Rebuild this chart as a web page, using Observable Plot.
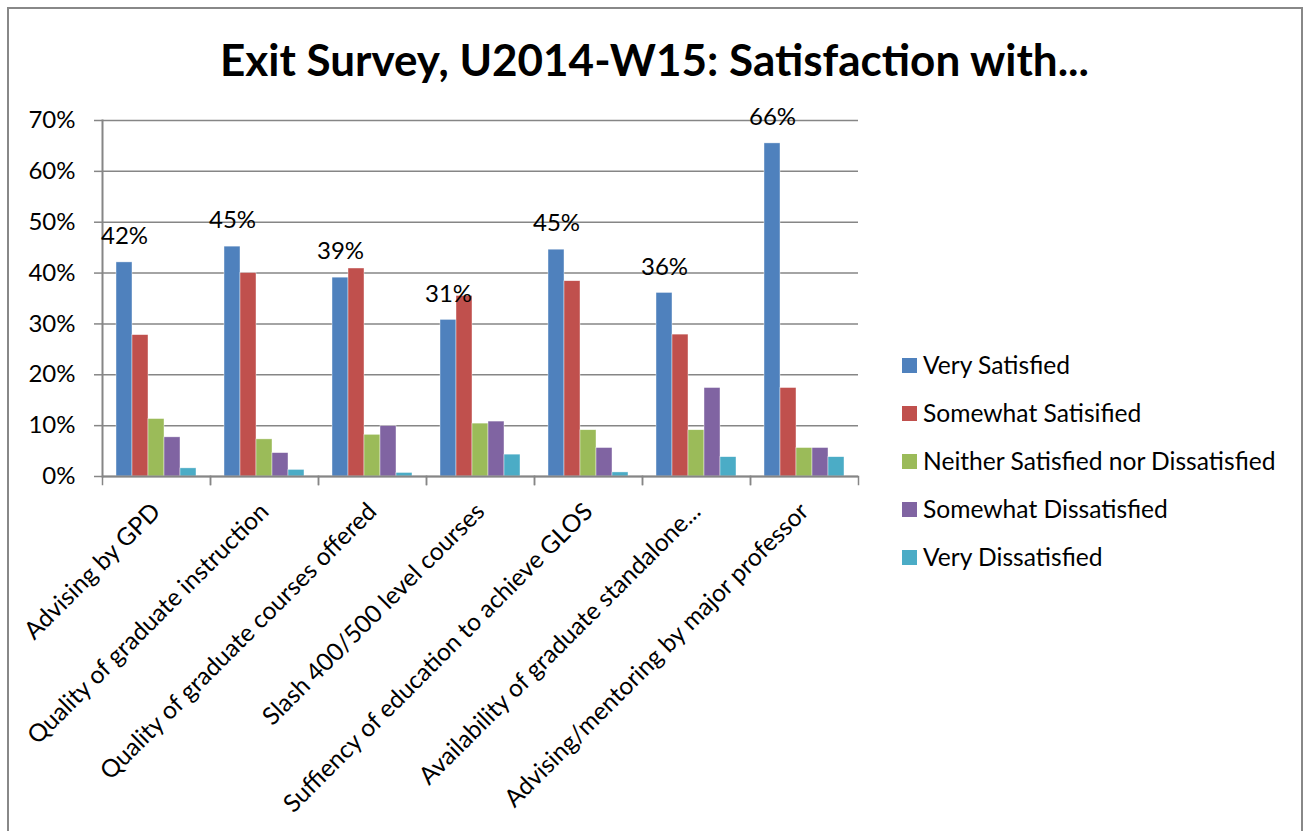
<!DOCTYPE html>
<html>
<head>
<meta charset="utf-8">
<script src="https://cdn.jsdelivr.net/npm/d3@7"></script>
<script src="https://cdn.jsdelivr.net/npm/@observablehq/plot@0.6"></script>
<style>
  html, body { margin: 0; padding: 0; background: #fff; }
  #wrap { position: relative; width: 1304px; height: 831px; overflow: hidden; font-family: Lato, "Open Sans", sans-serif; }
  #frame { position: absolute; left: 7px; top: 7px; width: 1296px; height: 900px; border: 2px solid #888; box-sizing: border-box; }
  #title { position: absolute; left: 7px; width: 1295px; top: 31px; text-align: center; font-weight: bold; font-size: 44px; line-height: 56px; color: #000; }
  #chart { position: absolute; left: 0; top: 0; }
  #legend { position: absolute; left: 902px; top: 0; }
  .item { position: absolute; left: 0; white-space: nowrap; font-size: 24.6px; line-height: 30px; color: #000; }
  .sw { display: inline-block; width: 15px; height: 15px; margin-right: 6px; vertical-align: middle; position: relative; top: -2px; }
</style>
</head>
<body>
<div id="wrap">
  <div id="frame"></div>
  <div id="title"></div>
  <div id="chart"></div>
  <div id="legend"></div>
</div>
<script>
const titleText = "Exit Survey, U2014-W15: Satisfaction with...";
const categories = [
  "Advising by GPD",
  "Quality of graduate instruction",
  "Quality of graduate courses offered",
  "Slash 400/500 level courses",
  "Suffiency of education to achieve GLOS",
  "Availability of graduate standalone...",
  "Advising/mentoring by major professor"
];
const seriesNames = [
  "Very Satisfied",
  "Somewhat Satisified",
  "Neither Satisfied nor Dissatisfied",
  "Somewhat Dissatisfied",
  "Very Dissatisfied"
];
const colors = ["#4F81BD", "#C0504D", "#9BBB59", "#8064A2", "#4BACC6"];
const verySatisfied        = [42.1, 45.2, 39.1, 30.8, 44.6, 36.1, 65.5];
const somewhatSatisfied    = [27.8, 40.0, 40.9, 35.5, 38.4, 27.9, 17.4];
const neither              = [11.3, 7.3, 8.2, 10.4, 9.1, 9.1, 5.6];
const somewhatDissatisfied = [7.7, 4.6, 9.9, 10.8, 5.6, 17.4, 5.6];
const veryDissatisfied     = [1.6, 1.3, 0.7, 4.3, 0.8, 3.8, 3.8];
const yTicks = [0, 10, 20, 30, 40, 50, 60, 70];

const seriesValues = [verySatisfied, somewhatSatisfied, neither, somewhatDissatisfied, veryDissatisfied];
const rows = categories.flatMap((c, i) => seriesNames.map((s, j) => ({category: c, series: s, value: seriesValues[j][i]})));
const labelRows = rows.filter(d => d.series === seriesNames[0]);

document.getElementById("title").textContent = titleText;

const W = 1304, H = 831;
const pLeft = 100, pRight = 859, pTop = 120, pBottom = 476;
const grey = "#868686";
const fs = 24;

const chart = Plot.plot({
  width: W, height: H,
  marginLeft: pLeft, marginRight: W - pRight, marginTop: pTop, marginBottom: H - pBottom,
  style: {fontFamily: "Lato, 'Open Sans', sans-serif", fontSize: fs + "px", background: "transparent", color: "#000"},
  fx: {domain: categories, padding: 0, label: null},
  x: {domain: seriesNames, paddingInner: 0, paddingOuter: 0.75, axis: null},
  y: {domain: [0, 70], label: null},
  color: {domain: seriesNames, range: colors},
  marks: [
    Plot.gridY(yTicks, {stroke: grey, strokeOpacity: 1, strokeWidth: 1.5}),
    Plot.axisY(yTicks, {tickSize: 8, tickPadding: 19, tickFormat: d => d + "%", fontSize: fs, label: null, stroke: grey, strokeWidth: 1.5}),
    Plot.barY(rows, {fx: "category", x: "series", y: "value", fill: "series", stroke: "#fff", strokeWidth: 0.6, strokeOpacity: 0.7}),
    Plot.ruleY([0], {stroke: grey, strokeWidth: 2}),
    Plot.frame({anchor: "left", facetAnchor: "left", stroke: grey, strokeWidth: 2}),
    Plot.frame({anchor: "left", stroke: grey, strokeWidth: 1.5, insetTop: pBottom - pTop, insetBottom: -8}),
    Plot.frame({anchor: "right", stroke: grey, strokeWidth: 1.5, insetTop: pBottom - pTop, insetBottom: -8}),
    Plot.axisFx({anchor: "bottom", tickRotate: -45, tickSize: 0, tickPadding: 31, fontSize: 24.5, label: null}),
    Plot.text(labelRows, {fx: "category", x: "series", y: "value", text: d => Math.round(d.value) + "%", dy: -26, fontSize: fs, fill: "#000"})
  ]
});
document.getElementById("chart").appendChild(chart);

const legend = document.getElementById("legend");
seriesNames.forEach((s, i) => {
  const it = document.createElement("div");
  it.className = "item";
  it.style.top = (366.7 + 48.1 * i - 17) + "px";
  const sw = document.createElement("span");
  sw.className = "sw";
  sw.style.background = colors[i];
  it.appendChild(sw);
  it.appendChild(document.createTextNode(s));
  legend.appendChild(it);
});
</script>
</body>
</html>
